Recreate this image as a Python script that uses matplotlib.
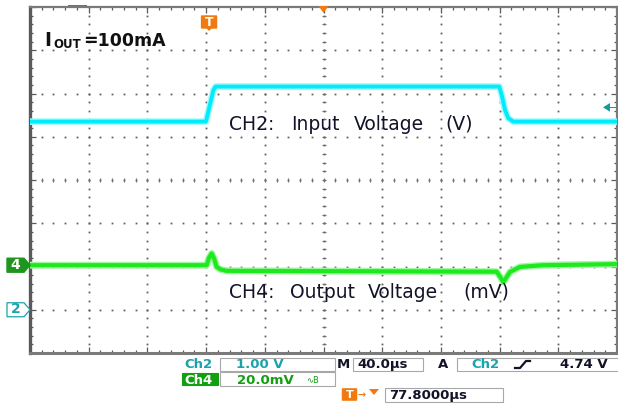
import numpy as np
import matplotlib
matplotlib.use("Agg")
import matplotlib.pyplot as plt
from matplotlib.patches import Rectangle, FancyBboxPatch, Polygon
from matplotlib.lines import Line2D

# scope screen: 10 x 8 divisions, 40 us/div
time_per_div_us = 40.0
n_xdiv = 10
n_ydiv = 8

# CH2 - input voltage, 1 V/div, ground marker at 1 div
ch2_volts_per_div = 1.0
ch2_ground_div = 1.0
ch2_time_us = [0, 119.9, 125.0, 126.5, 319.8, 321.4, 323.7, 325.9, 329.3, 400]
ch2_volts = [4.35, 4.35, 5.08, 5.16, 5.16, 4.97, 4.62, 4.43, 4.35, 4.35]

# CH4 - output voltage (AC coupled), 20 mV/div, ground marker at ~2 div
ch4_mv_per_div = 20.0
ch4_ground_div = 2.03
ch4_time_us = [0, 120.4, 122.0, 123.8, 125.5, 127.2, 130.0, 134.0, 318.0,
               320.5, 322.5, 324.8, 327.1, 333.9, 349.6, 400]
ch4_mv = [0, 0, 3.5, 5.4, 3.0, -0.8, -2.0, -2.6, -3.0,
          -5.5, -7.8, -5.5, -3.1, -0.8, 0.0, 0.5]

trig_time_us = 122.0
trig_marker_v = 4.68

label_ch2 = ["CH2:", "Input", "Voltage", "(V)"]
label_ch4 = ["CH4:", "Output", "Voltage", "(mV)"]

# readout panel texts
ro_ch2_scale = "1.00 V"
ro_ch4_scale = "20.0mV"
ro_time = "40.0\u00b5s"
ro_trig = "4.74 V"
ro_delay = "77.8000\u00b5s"

W, H = 618, 405
TEAL = "#1aa3ad"
GREEN = "#12a012"
ORANGE = "#f07a10"
INK = "#121228"


def fpx(x, y):
    # figure pixel -> figure fraction
    return x / W, 1 - y / H


fig = plt.figure(figsize=(W / 100, H / 100), dpi=100)
ax = fig.add_axes([30 / W, 52 / H, 587 / W, 346 / H])
xmax = time_per_div_us * n_xdiv
ax.set_xlim(0, xmax)
ax.set_ylim(0, n_ydiv)

# graticule dots
sub_x = np.arange(0, xmax + 0.1, time_per_div_us / 5)
sub_y = np.arange(0, n_ydiv + 0.01, 0.2)
for k in range(1, n_xdiv):
    ax.plot(np.full_like(sub_y, k * time_per_div_us), sub_y, ls="none",
            marker="s", ms=1.3, mew=0, color="#606060", zorder=1)
for k in range(1, n_ydiv):
    ax.plot(sub_x, np.full_like(sub_x, k), ls="none",
            marker="s", ms=1.3, mew=0, color="#606060", zorder=1)
# centre cross ticks
ax.plot(np.full_like(sub_y, xmax / 2), sub_y, ls="none", marker="_", ms=3.5,
        mew=0.8, color="#707070", zorder=1)
ax.plot(sub_x, np.full_like(sub_x, n_ydiv / 2), ls="none", marker="|", ms=3.5,
        mew=0.8, color="#707070", zorder=1)

# border ticks
ax.set_xticks(np.arange(0, xmax + 1, time_per_div_us))
ax.set_xticks(sub_x, minor=True)
ax.set_yticks(np.arange(0, n_ydiv + 1, 1))
ax.set_yticks(sub_y, minor=True)
ax.tick_params(which="both", direction="in", top=True, right=True,
               labelleft=False, labelbottom=False, color="#5a5a5a", width=0.9)
ax.tick_params(which="major", length=4.5)
ax.tick_params(which="minor", length=2.5)
for side, sp in ax.spines.items():
    sp.set_color("#7a7a7a")
    sp.set_linewidth(1.6)
ax.spines["left"].set_linewidth(2.4)
ax.spines["left"].set_color("#5a5a5a")
ax.spines["bottom"].set_linewidth(2.2)

# traces
ch2_div = np.array(ch2_volts) / ch2_volts_per_div + ch2_ground_div
ch4_div = np.array(ch4_mv) / ch4_mv_per_div + ch4_ground_div
ax.plot(ch2_time_us, ch2_div, color="#a6f7fd", lw=4.8, zorder=3,
        solid_joinstyle="round")
ax.plot(ch2_time_us, ch2_div, color="#00ecfb", lw=2.8, zorder=4,
        solid_joinstyle="round")
ax.plot(ch4_time_us, ch4_div, color="#a4f5a4", lw=5.0, zorder=3,
        solid_joinstyle="round")
ax.plot(ch4_time_us, ch4_div, color="#1ee81e", lw=3.0, zorder=4,
        solid_joinstyle="round")

# in-plot labels
txt_kw = dict(fontsize=13.5, family="DejaVu Sans", color=INK, va="baseline")
for word, x in zip(label_ch2, [229, 291, 354, 445]):
    fig.text(*fpx(x, 129.5), word, **txt_kw)
for word, x in zip(label_ch4, [229, 290, 368, 463]):
    fig.text(*fpx(x, 298), word, **txt_kw)

bold = dict(family="DejaVu Sans", weight="bold", color="#111111",
            va="baseline")
fig.text(*fpx(44, 46.5), "I", fontsize=13.5, **bold)
fig.text(*fpx(53, 47.5), "OUT", fontsize=8.5, **bold)
fig.text(*fpx(83, 46.5), "=100mA", fontsize=12.5, **bold)

# channel markers on the left
yax = ax.get_yaxis_transform()
x0, x1 = -23 / 587, -6 / 587
h = 7 / 43.25
y4 = ch4_ground_div
ax.add_patch(Polygon([(x0, y4 - h), (x1, y4 - h), (0, y4), (x1, y4 + h),
                      (x0, y4 + h)], closed=True, transform=yax,
                     facecolor="#1e961e", edgecolor="#1e961e",
                     clip_on=False, zorder=5))
ax.text((x0 + x1) / 2, y4, "4", transform=yax, ha="center", va="center",
        color="white", fontsize=10, weight="bold", clip_on=False, zorder=6)
y2 = ch2_ground_div
ax.add_patch(Polygon([(x0, y2 - h), (x1, y2 - h), (0, y2), (x1, y2 + h),
                      (x0, y2 + h)], closed=True, transform=yax,
                     facecolor="white", edgecolor=TEAL, lw=0.9,
                     clip_on=False, zorder=5))
ax.text((x0 + x1) / 2, y2 + 0.01, "2", transform=yax, ha="center",
        va="center", color=TEAL, fontsize=10, weight="bold", clip_on=False,
        zorder=6)

# trigger level marker on the right
yt = trig_marker_v / ch2_volts_per_div + ch2_ground_div
ax.add_patch(Polygon([(1 - 14 / 587, yt), (1 - 7 / 587, yt + 0.1),
                      (1 - 7 / 587, yt - 0.1)], closed=True, transform=yax,
                     facecolor="#129aa0", edgecolor="none", zorder=5))
ax.plot([1 - 7 / 587, 1], [yt, yt], transform=yax, color="#129aa0", lw=0.7)

# trigger position marker (top)
tx = trig_time_us / xmax
ax.add_patch(FancyBboxPatch((tx - 7 / 587, 1 - 21 / 346), 14 / 587,
                            12 / 346, boxstyle="round,pad=0.002",
                            transform=ax.transAxes, facecolor=ORANGE,
                            edgecolor="none", zorder=6, clip_on=False))
ax.add_patch(Polygon([(tx - 3 / 587, 1 - 21 / 346), (tx + 3 / 587, 1 - 21 / 346),
                      (tx, 1 - 24 / 346)], closed=True, transform=ax.transAxes,
                     facecolor=ORANGE, edgecolor="none", zorder=6))
ax.text(tx, 1 - 15 / 346, "T", transform=ax.transAxes, ha="center",
        va="center", color="white", fontsize=9, weight="bold", zorder=7)
ax.add_patch(Polygon([(0.5 - 5 / 587, 1 + 1 / 346), (0.5 + 5 / 587, 1 + 1 / 346),
                      (0.5, 1 - 6 / 346)], closed=True, transform=ax.transAxes,
                     facecolor=ORANGE, edgecolor="none", clip_on=False,
                     zorder=6))
ax.add_patch(Rectangle((38 / 587, 1), 19 / 587, 2 / 346, transform=ax.transAxes,
                       facecolor="#707070", edgecolor="none", clip_on=False))


# readout panel
def box(x, y, w, h, fc="white", ec="#a8a8a8"):
    fig.patches.append(Rectangle(fpx(x, y + h), w / W, h / H,
                                 transform=fig.transFigure, facecolor=fc,
                                 edgecolor=ec, lw=0.8))


ro = dict(family="DejaVu Sans", weight="bold", fontsize=9.5, va="baseline")
box(220, 357.5, 115, 13)
box(353, 357.5, 70, 13)
box(457, 357.5, 165, 13)
box(220, 372, 115, 14)
box(182, 373, 36, 12, fc=GREEN, ec=GREEN)
box(385, 388, 118, 14)

fig.text(*fpx(184, 368), "Ch2", color=TEAL, **ro)
fig.text(*fpx(236, 368), ro_ch2_scale, color=TEAL, **ro)
fig.text(*fpx(337, 368), "M", color=INK, **ro)
fig.text(*fpx(357, 368), ro_time, color=INK, **ro)
fig.text(*fpx(438, 368), "A", color=INK, **ro)
fig.text(*fpx(471, 368), "Ch2", color=TEAL, **ro)
fig.text(*fpx(560, 368), ro_trig, color=INK, **ro)
fig.lines.append(Line2D([515 / W, 520 / W, 526 / W, 530 / W],
                        [1 - 368 / H, 1 - 368 / H, 1 - 361 / H, 1 - 361 / H],
                        transform=fig.transFigure, color=INK, lw=1.6))
fig.text(*fpx(184, 383.5), "Ch4", color="white", **ro)
fig.text(*fpx(237, 383.5), ro_ch4_scale, color=GREEN, **ro)
fig.text(*fpx(306, 383), "\u223fB", color=GREEN, family="DejaVu Sans",
         fontsize=6, va="baseline")

fig.patches.append(FancyBboxPatch(fpx(343, 400), 13 / W, 11 / H,
                                  boxstyle="round,pad=0.002",
                                  transform=fig.transFigure,
                                  facecolor=ORANGE, edgecolor="none"))
fig.text(*fpx(349.5, 394.5), "T", color="white", fontsize=8, weight="bold",
         ha="center", va="center")
fig.text(*fpx(358, 398), "\u2192", color=ORANGE, fontsize=7, weight="bold",
         va="baseline")
fig.patches.append(Polygon([fpx(369, 389), fpx(379, 389), fpx(374, 395)],
                           closed=True, transform=fig.transFigure,
                           facecolor=ORANGE, edgecolor="none"))
fig.text(*fpx(389, 399.5), ro_delay, color=INK, **ro)

fig.savefig("out.png", dpi=100)
